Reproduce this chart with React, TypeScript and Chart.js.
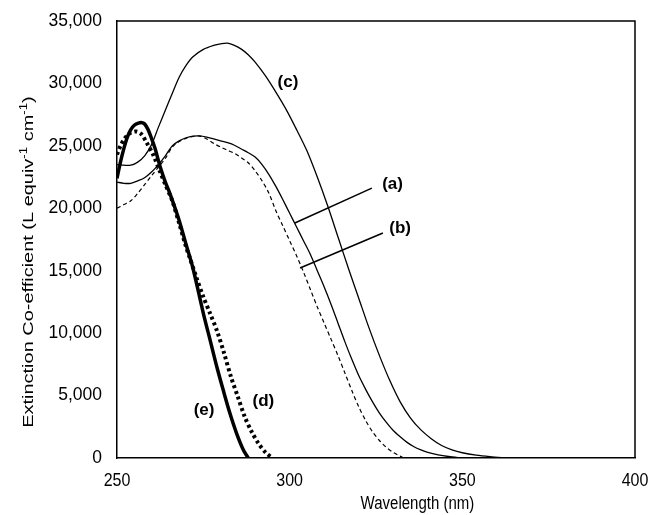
import React, { useEffect, useRef } from "react";
import { Chart, registerables } from "chart.js";

Chart.register(...registerables);

// Wavelength (nm) / extinction coefficient pairs
const wlA = [250, 252, 254, 256, 258, 260, 262, 264, 266, 268, 270, 272, 274, 276, 278, 280, 282, 284, 286, 288, 290, 292, 294, 296, 298, 300, 302, 304, 306, 308, 310, 312, 314, 316, 318, 320, 322, 324, 326, 328, 330, 332, 334, 336, 338, 340, 343, 346, 350];
const valA = [22100, 22000, 22000, 22200, 22450, 22900, 23500, 24200, 25000, 25400, 25650, 25780, 25800, 25700, 25550, 25400, 25250, 25050, 24750, 24450, 24100, 23500, 22700, 21750, 20700, 19600, 18500, 17400, 16300, 15000, 13700, 12300, 10800, 9300, 7900, 6600, 5500, 4500, 3600, 2850, 2200, 1700, 1250, 900, 650, 450, 250, 120, 0];

const wlB = [250, 252, 254, 256, 258, 260, 262, 264, 266, 268, 270, 272, 274, 276, 278, 280, 282, 284, 286, 288, 290, 292, 294, 296, 298, 300, 302, 304, 306, 308, 310, 312, 314, 316, 318, 320, 322, 324, 326, 328, 330, 332, 333];
const valB = [20000, 20300, 20600, 21200, 21900, 22600, 23300, 24000, 24900, 25350, 25600, 25750, 25780, 25550, 25200, 24900, 24650, 24400, 24050, 23650, 23000, 22200, 21200, 19800, 18600, 17400, 16200, 14900, 13500, 12100, 10800, 9500, 8200, 6800, 5400, 4100, 3000, 2100, 1400, 850, 450, 150, 0];

const wlC = [250, 252, 254, 256, 258, 260, 262, 264, 266, 268, 270, 272, 275, 278, 280, 282, 284, 286, 288, 290, 293, 296, 299, 302, 305, 308, 311, 314, 317, 320, 323, 326, 329, 332, 335, 338, 341, 344, 347, 350, 354, 358, 363];
const valC = [23500, 23450, 23450, 23700, 24200, 25100, 26500, 27850, 29200, 30500, 31450, 32140, 32730, 33050, 33170, 33220, 33050, 32750, 32300, 31700, 30600, 29300, 27900, 26300, 24600, 22500, 20200, 17700, 15200, 12800, 10400, 8200, 6200, 4500, 3200, 2250, 1550, 1000, 650, 420, 230, 110, 0];

const wlD = [250, 251, 252, 253, 254, 255.5, 257, 258.5, 260.5, 262.5, 264, 266, 268, 270, 271, 273, 275, 277, 279, 281, 283, 285, 287, 289, 291, 293, 295];
const valD = [24300, 25000, 25500, 25850, 26050, 26150, 25950, 25300, 24270, 22900, 21900, 20600, 18800, 16900, 16100, 14450, 12900, 11550, 10150, 8400, 6500, 4900, 3300, 2100, 1150, 450, 0];

const wlE = [250, 251, 252, 253, 254, 255, 256, 257.2, 258, 259, 260, 261, 262.5, 264, 265.3, 267.8, 270.2, 272, 275, 277, 278.9, 280.8, 282.7, 284.6, 286.6, 288];
const valE = [22400, 23700, 24800, 25700, 26300, 26650, 26800, 26860, 26750, 26300, 25600, 24800, 23330, 22100, 21200, 19200, 16920, 15200, 11590, 9400, 7310, 5400, 3580, 2000, 640, 0];

// Leader lines for labels (a) and (b)
const leaderAwl = [301.5, 323.8];
const leaderAval = [18820, 21620];
const leaderBwl = [303, 327];
const leaderBval = [15220, 18020];

// Curve labels and where they sit (data coordinates)
const labelTexts = ["(a)", "(b)", "(c)", "(d)", "(e)"];
const labelWl = [329.8, 332, 299.5, 292.4, 275.2];
const labelVal = [21900, 18400, 30100, 4510, 3840];

const xTicks = [250, 300, 350, 400];
const xTitle = "Wavelength (nm)";
const xTitleAt = 337; // wavelength under which the title is centred
const yMax = 35000;
const yStep = 5000;

const toPts = (xs: number[], ys: number[]) => xs.map((x, i) => ({ x, y: ys[i] }));

const FONT = "'Liberation Sans', Arial, sans-serif";

const decorPlugin = {
  id: "decor",
  afterDraw(chart: any) {
    const { ctx, chartArea, scales } = chart;
    const xs = scales.x;
    const ys = scales.y;
    ctx.save();
    // frame (top & right)
    ctx.strokeStyle = "#000";
    ctx.lineWidth = 1.5;
    ctx.beginPath();
    ctx.moveTo(chartArea.left, chartArea.top);
    ctx.lineTo(chartArea.right, chartArea.top);
    ctx.lineTo(chartArea.right, chartArea.bottom);
    ctx.stroke();

    // curve labels
    ctx.fillStyle = "#000";
    ctx.font = "bold 17px " + FONT;
    ctx.textAlign = "center";
    ctx.textBaseline = "middle";
    labelTexts.forEach((t, i) => {
      ctx.fillText(t, xs.getPixelForValue(labelWl[i]), ys.getPixelForValue(labelVal[i]));
    });

    // x tick labels (slightly tall lettering, as in the original)
    ctx.textBaseline = "alphabetic";
    ctx.font = "16px " + FONT;
    xTicks.forEach((v) => {
      ctx.save();
      ctx.translate(xs.getPixelForValue(v), chartArea.bottom + 28);
      ctx.scale(1, 1.2);
      ctx.fillText(String(v), 0, 0);
      ctx.restore();
    });

    // x title
    ctx.save();
    ctx.font = "15px " + FONT;
    ctx.translate(xs.getPixelForValue(xTitleAt), chartArea.bottom + 51);
    ctx.scale(1, 1.22);
    ctx.fillText(xTitle, 0, 0);
    ctx.restore();

    // y axis title with superscripts
    const parts: [string, boolean][] = [
      ["Extinction Co-efficient (L equiv", false],
      ["-1", true],
      [" cm", false],
      ["-1", true],
      [")", false],
    ];
    const mainFont = "15px " + FONT;
    const supFont = "10px " + FONT;
    let total = 0;
    const widths = parts.map(([t, sup]) => {
      ctx.font = sup ? supFont : mainFont;
      const w = ctx.measureText(t).width;
      total += w;
      return w;
    });
    ctx.translate(29, 262);
    ctx.rotate(-Math.PI / 2);
    ctx.scale(1.33, 1);
    ctx.textAlign = "left";
    ctx.textBaseline = "middle";
    let cx = -total / 2;
    parts.forEach(([t, sup], i) => {
      ctx.font = sup ? supFont : mainFont;
      ctx.fillText(t, cx, sup ? -5 : 0);
      cx += widths[i];
    });
    ctx.restore();
  },
};

export default function App() {
  const ref = useRef<HTMLCanvasElement | null>(null);

  useEffect(() => {
    if (!ref.current) return;
    const line = (data: any, width: number, dash: number[] = []) => ({
      data,
      borderColor: "#000",
      backgroundColor: "#000",
      borderWidth: width,
      borderDash: dash,
      pointRadius: 0,
      fill: false,
      tension: 0.3,
    });
    const chart = new Chart(ref.current, {
      type: "line",
      data: {
        datasets: [
          line(toPts(wlA, valA), 1.3),
          line(toPts(wlB, valB), 1.2, [4, 3]),
          line(toPts(wlC, valC), 1.3),
          { ...line(toPts(wlD, valD), 4, [3, 3]), borderCapStyle: "butt" },
          line(toPts(wlE, valE), 3.5),
          { ...line(toPts(leaderAwl, leaderAval), 1.5), tension: 0 },
          { ...line(toPts(leaderBwl, leaderBval), 1.5), tension: 0 },
        ] as any,
      },
      options: {
        animation: false,
        responsive: true,
        maintainAspectRatio: false,
        layout: { padding: { top: 21, right: 16, left: 0, bottom: 0 } },
        plugins: { legend: { display: false }, tooltip: { enabled: false } },
        scales: {
          x: {
            type: "linear",
            min: 250,
            max: 400,
            afterBuildTicks: (s: any) => {
              s.ticks = xTicks.map((v) => ({ value: v }));
            },
            afterFit: (s: any) => {
              s.height = 57;
            },
            grid: { display: false, drawTicks: false },
            border: { display: true, color: "#000", width: 1.5 },
            ticks: { display: false },
          },
          y: {
            type: "linear",
            min: 0,
            max: yMax,
            ticks: {
              stepSize: yStep,
              color: "#000",
              padding: 15,
              font: { family: FONT, size: 17.5 },
              callback: (v: any) => Number(v).toLocaleString("en-US"),
            },
            afterFit: (s: any) => {
              s.width = 117;
              s.paddingTop = 10;
              s.paddingBottom = 10;
            },
            grid: { display: false, drawTicks: false },
            border: { display: true, color: "#000", width: 1.5 },
          },
        },
      },
      plugins: [decorPlugin],
    });
    return () => chart.destroy();
  }, []);

  return (
    <div style={{ position: "absolute", left: 0, top: 0, width: 651, height: 515, background: "#fff" }}>
      <canvas ref={ref} />
    </div>
  );
}
